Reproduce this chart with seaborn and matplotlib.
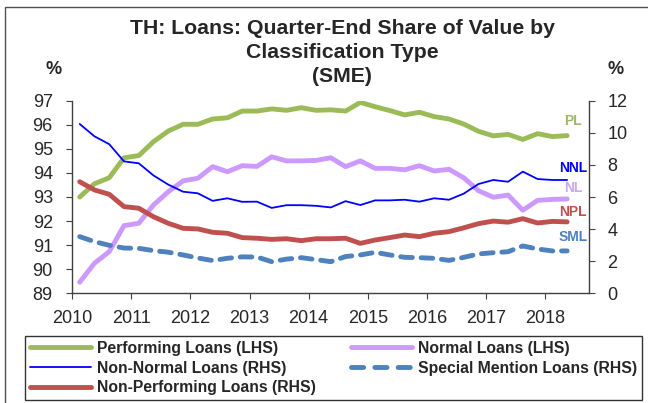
import matplotlib
matplotlib.use('Agg')
import matplotlib.pyplot as plt
from matplotlib.patches import Rectangle
from matplotlib.lines import Line2D
import pandas as pd
import seaborn as sns

# quarter-end data, 2010Q1 .. 2018Q2
quarters = pd.period_range('2010Q1', '2018Q2', freq='Q')

# LHS (%)
performing = [93.00, 93.55, 93.80, 94.63, 94.72, 95.30, 95.74, 96.02, 96.02, 96.24,
              96.29, 96.57, 96.57, 96.66, 96.60, 96.71, 96.60, 96.62, 96.57, 96.93,
              96.75, 96.59, 96.41, 96.52, 96.34, 96.24, 96.03, 95.73, 95.54, 95.60,
              95.39, 95.63, 95.51, 95.55]
normal = [89.46, 90.25, 90.73, 91.81, 91.91, 92.67, 93.22, 93.67, 93.78, 94.26,
          94.05, 94.30, 94.27, 94.67, 94.50, 94.50, 94.52, 94.63, 94.26, 94.50,
          94.19, 94.19, 94.13, 94.30, 94.08, 94.15, 93.80, 93.26, 92.99, 93.08,
          92.45, 92.86, 92.90, 92.92]

# RHS (%)
non_normal = [10.55, 9.78, 9.29, 8.22, 8.10, 7.34, 6.77, 6.33, 6.23, 5.76,
              5.92, 5.70, 5.71, 5.32, 5.49, 5.49, 5.45, 5.35, 5.74, 5.50,
              5.79, 5.79, 5.83, 5.71, 5.92, 5.83, 6.21, 6.81, 7.06, 6.95,
              7.58, 7.12, 7.06, 7.06]
non_performing = [6.95, 6.44, 6.17, 5.40, 5.30, 4.77, 4.36, 4.05, 4.01, 3.80,
                  3.74, 3.47, 3.43, 3.36, 3.40, 3.28, 3.40, 3.40, 3.43, 3.11,
                  3.32, 3.47, 3.63, 3.53, 3.74, 3.84, 4.08, 4.34, 4.50, 4.43,
                  4.65, 4.38, 4.48, 4.45]
special_mention = [3.53, 3.22, 2.99, 2.82, 2.80, 2.66, 2.56, 2.39, 2.20, 2.04,
                   2.18, 2.27, 2.26, 1.97, 2.13, 2.22, 2.10, 1.97, 2.29, 2.39,
                   2.55, 2.39, 2.24, 2.22, 2.18, 2.05, 2.24, 2.45, 2.53, 2.59,
                   2.95, 2.76, 2.64, 2.64]

# mid-quarter position on a year axis
xpos = [q.year + (q.quarter - 1) / 4 + 0.125 for q in quarters]
df = pd.DataFrame({'x': xpos, 'PL': performing, 'NL': normal, 'NNL': non_normal,
                   'NPL': non_performing, 'SML': special_mention})

green = '#9BBB59'
purple = '#CC99FF'
blue = '#0000FF'
red = '#C0504D'
steel = '#4F81BD'
THICK = 3.5

sns.set_style('ticks')
plt.rcParams['font.family'] = ['Liberation Sans', 'DejaVu Sans']

fig = plt.figure(figsize=(6.48, 4.03), dpi=100)
ax = fig.add_axes([72.3 / 648, 1 - 293.3 / 403, 517 / 648, 192.6 / 403])
ax2 = ax.twinx()

sns.lineplot(data=df, x='x', y='PL', ax=ax, color=green, lw=THICK, legend=False)
sns.lineplot(data=df, x='x', y='NL', ax=ax, color=purple, lw=THICK, legend=False)
sns.lineplot(data=df, x='x', y='NNL', ax=ax2, color=blue, lw=1.3, legend=False)
sns.lineplot(data=df, x='x', y='NPL', ax=ax2, color=red, lw=THICK, legend=False)
sml = sns.lineplot(data=df, x='x', y='SML', ax=ax2, color=steel, lw=THICK, legend=False)
sml.lines[-1].set_dashes((2.4, 1.8))
sml.lines[-1].set_dash_capstyle('round')

ax.set_xlim(2010, 2018.75)
ax.set_xticks(range(2010, 2019))
ax.set_ylim(89, 97)
ax.set_yticks(range(89, 98))
ax2.set_ylim(0, 12)
ax2.set_yticks(range(0, 13, 2))
for a in (ax, ax2):
    a.set_xlabel('')
    a.set_ylabel('')
    a.spines['top'].set_visible(False)
ax.spines['right'].set_visible(False)
ax2.spines['left'].set_visible(False)
ax2.spines['bottom'].set_visible(False)
for a in (ax, ax2):
    for s in a.spines.values():
        s.set_color('#404040')
        s.set_linewidth(1)
ax.tick_params(axis='y', direction='out', length=4, labelsize=13, pad=10, color='#404040')
ax.tick_params(axis='x', direction='out', length=4, labelsize=13, pad=8, color='#404040')
ax2.tick_params(axis='y', direction='out', length=4, labelsize=13, pad=9, color='#404040')

# end labels
lab = dict(fontsize=10, fontweight='bold', ha='center', va='center', transform=ax2.transData)
ax2.text(2018.47, 10.75, 'PL', color=green, **lab)
ax2.text(2018.47, 7.83, 'NNL', color=blue, **lab)
ax2.text(2018.47, 6.56, 'NL', color='#C8A8F0', **lab)
ax2.text(2018.47, 5.07, 'NPL', color=red, **lab)
ax2.text(2018.47, 3.5, 'SML', color=steel, **lab)

fig.text(0.528, 1 - 52.5 / 403,
         'TH: Loans: Quarter-End Share of Value by\nClassification Type\n(SME)',
         ha='center', va='center', fontsize=15.3, fontweight='bold', linespacing=1.3)
fig.text(53.5 / 648, 1 - 70 / 403, '%', ha='center', va='center', fontsize=13, fontweight='bold')
fig.text(616 / 648, 1 - 70 / 403, '%', ha='center', va='center', fontsize=13, fontweight='bold')

handles = [
    Line2D([], [], color=green, lw=THICK, solid_capstyle='round'),
    Line2D([], [], color=blue, lw=1.3),
    Line2D([], [], color=red, lw=THICK, solid_capstyle='round'),
    Line2D([], [], color=purple, lw=THICK, solid_capstyle='round'),
    Line2D([], [], color=steel, lw=THICK, dashes=(2.5, 2.3), dash_capstyle='round'),
]
labels = ['Performing Loans (LHS)', 'Non-Normal Loans (RHS)', 'Non-Performing Loans (RHS)',
          'Normal Loans (LHS)', 'Special Mention Loans (RHS)']
leg = fig.legend(handles, labels, ncol=2, loc='lower left',
                 bbox_to_anchor=(25 / 648, 3 / 403), frameon=True, fancybox=False,
                 edgecolor='black', prop={'weight': 'bold', 'size': 11.3},
                 handlelength=3.9, handletextpad=0.4, columnspacing=2.2,
                 borderpad=0.3, labelspacing=0.3, borderaxespad=0)
leg.get_frame().set_linewidth(1)

# outer frame of the chart box
fig.patches.append(Rectangle((5 / 648, -0.1), 1.2, 1.1 - 7 / 403, transform=fig.transFigure,
                             fill=False, ec='#505050', lw=1))

fig.savefig('out.png', dpi=100)
